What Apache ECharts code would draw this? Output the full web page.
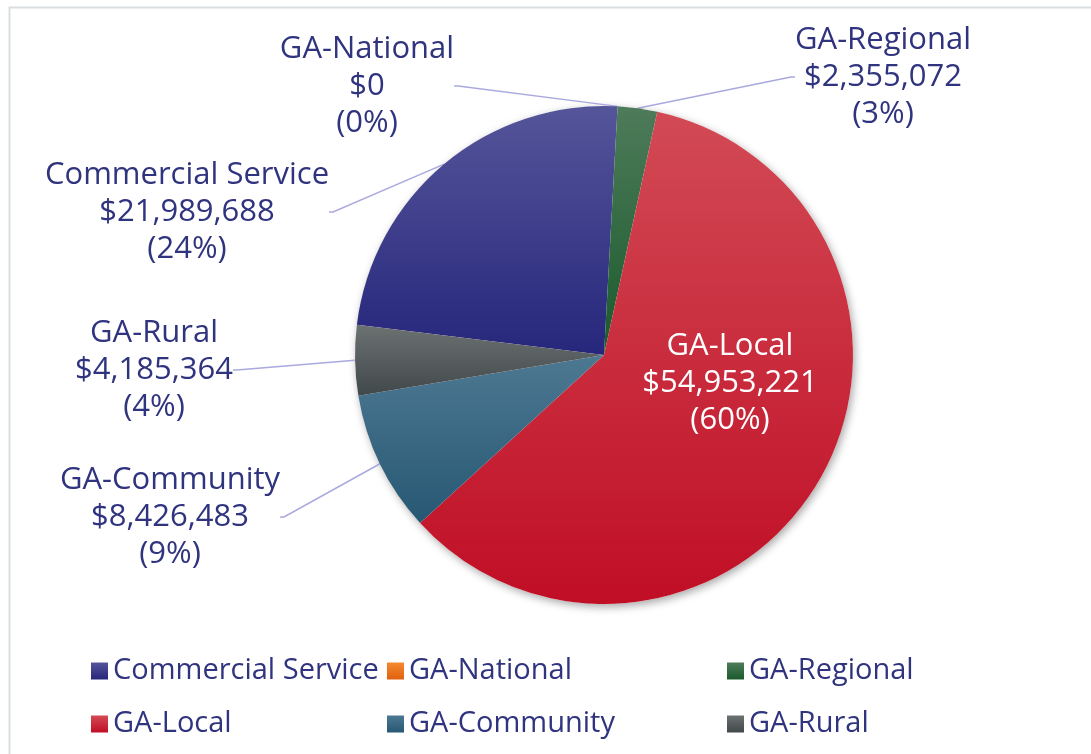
<!DOCTYPE html>
<html><head><meta charset="utf-8">
<script src="https://cdn.jsdelivr.net/npm/echarts@6/dist/echarts.min.js"></script>
<style>html,body{margin:0;padding:0;background:#fff}#c{width:1091px;height:754px}</style>
</head><body><div id="c"></div>
<script>
// ---- data ----
const categories = ['Commercial Service', 'GA-National', 'GA-Regional', 'GA-Local', 'GA-Community', 'GA-Rural'];
const values = [21989688, 0, 2355072, 54953221, 8426483, 4185364];
const percentLabels = ['24%', '0%', '3%', '60%', '9%', '4%'];

// ---- styles ----
const gradients = [
  ['#55559a', '#26267c'],
  ['#f58a30', '#e0600e'],
  ['#4e7b5a', '#195a2c'],
  ['#d24a55', '#c00e25'],
  ['#4d7892', '#275873'],
  ['#6c7272', '#41484a']
];
const labelPos = [[187, 212], [367, 86], [883, 77], [730, 383], [170, 517], [154, 370]];
const textColor = '#30347f';
const FONT = '"Open Sans", "Noto Sans", sans-serif';

function grad(i) {
  return new echarts.graphic.LinearGradient(0, 0, 0, 1, [
    { offset: 0, color: gradients[i][0] },
    { offset: 1, color: gradients[i][1] }
  ]);
}
const fmt = v => '$' + v.toLocaleString('en-US');
const total = values.reduce((a, b) => a + b, 0);

const pieData = categories.map((name, i) => {
  const d = { name, value: values[i], itemStyle: { color: grad(i) } };
  if (name === 'GA-Local') {
    d.label = { position: 'inside', color: '#ffffff' };
    d.labelLine = { show: false };
  }
  return d;
});

const chart = echarts.init(document.getElementById('c'), null, { renderer: 'canvas' });
const legendCommon = {
  orient: 'vertical', icon: 'rect', itemWidth: 17, itemHeight: 17, itemGap: 21,
  selectedMode: false,
  textStyle: { fontFamily: FONT, fontSize: 29, color: textColor, lineHeight: 32 }
};
chart.setOption({
  animation: false,
  backgroundColor: '#ffffff',
  graphic: [{
    type: 'rect', left: 7, top: 5, z: -10,
    shape: { width: 1200, height: 900 },
    style: { fill: 'none', stroke: '#d9dfe0', lineWidth: 2 }
  }],
  legend: [
    Object.assign({ left: 86, top: 650, data: [categories[0], categories[3]] }, legendCommon),
    Object.assign({ left: 382, top: 650, data: [categories[1], categories[4]] }, legendCommon),
    Object.assign({ left: 722, top: 650, data: [categories[2], categories[5]] }, legendCommon)
  ],
  series: [
    {
      type: 'pie', silent: true, center: [604, 355], radius: 249,
      z: 1, label: { show: false }, labelLine: { show: false },
      data: [{ name: '__bg', value: total, itemStyle: { color: '#ffffff', shadowBlur: 8, shadowColor: 'rgba(0,0,0,0.35)', shadowOffsetX: 2, shadowOffsetY: 3 } }]
    },
    {
      type: 'pie', z: 2,
      center: [604, 355], radius: 249,
      startAngle: 173, clockwise: true,
      avoidLabelOverlap: false,
      itemStyle: { borderWidth: 0 },
      label: {
        show: true, fontFamily: FONT, fontSize: 31, lineHeight: 37,
        color: textColor, align: 'center',
        formatter: p => p.name + '\n' + fmt(values[p.dataIndex]) + '\n(' + percentLabels[p.dataIndex] + ')'
      },
      labelLine: { show: true, length: 10, length2: 4, lineStyle: { color: '#a9a9df', width: 1.5 } },
      labelLayout: p => ({
        x: labelPos[p.dataIndex][0], y: labelPos[p.dataIndex][1],
        align: 'center', verticalAlign: 'middle'
      }),
      emphasis: { disabled: true },
      data: pieData
    }
  ]
});
</script>
</body></html>
